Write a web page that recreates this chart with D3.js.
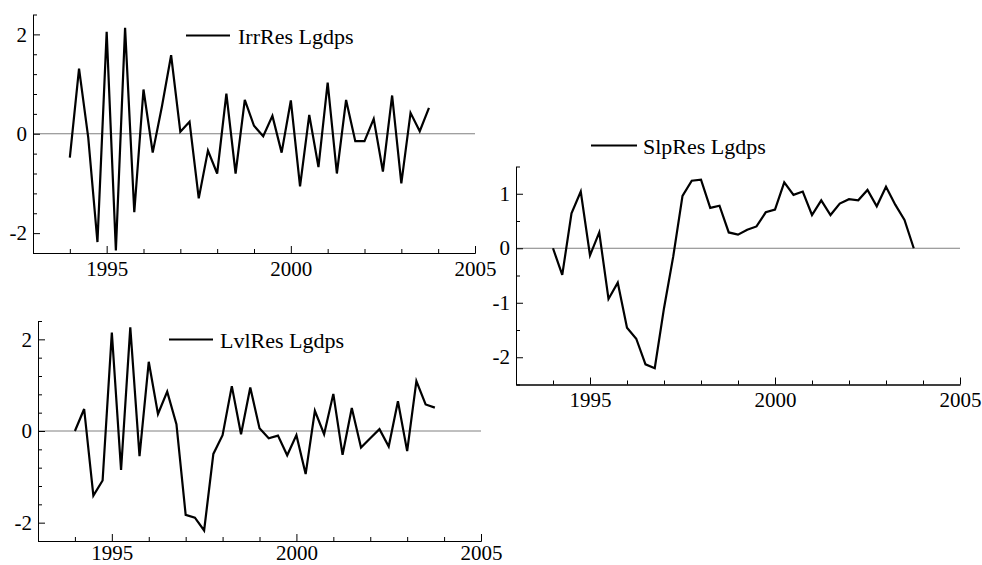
<!DOCTYPE html>
<html>
<head>
<meta charset="utf-8">
<script src="https://cdn.jsdelivr.net/npm/d3@7"></script>
<style>
  body { margin: 0; background: #fff; }
  svg { display: block; }
</style>
</head>
<body>
<div id="main"></div>
<script>
// quarterly dates 1994Q1 .. 2003Q4
var quarters = [
  1994, 1994.25, 1994.5, 1994.75, 1995, 1995.25, 1995.5, 1995.75,
  1996, 1996.25, 1996.5, 1996.75, 1997, 1997.25, 1997.5, 1997.75,
  1998, 1998.25, 1998.5, 1998.75, 1999, 1999.25, 1999.5, 1999.75,
  2000, 2000.25, 2000.5, 2000.75, 2001, 2001.25, 2001.5, 2001.75,
  2002, 2002.25, 2002.5, 2002.75, 2003, 2003.25, 2003.5, 2003.75
];

var irrRes = [
  -0.48, 1.31, -0.08, -2.18, 2.05, -2.35, 2.13, -1.58,
  0.89, -0.38, 0.55, 1.58, 0.04, 0.24, -1.30, -0.34,
  -0.80, 0.81, -0.80, 0.68, 0.16, -0.05, 0.36, -0.38,
  0.67, -1.06, 0.38, -0.67, 1.03, -0.80, 0.68, -0.15,
  -0.15, 0.30, -0.76, 0.77, -1.00, 0.42, 0.05, 0.52
];

var lvlRes = [
  0.00, 0.48, -1.41, -1.08, 2.15, -0.85, 2.26, -0.55,
  1.51, 0.37, 0.86, 0.15, -1.83, -1.89, -2.17, -0.50,
  -0.09, 0.98, -0.07, 0.95, 0.06, -0.16, -0.10, -0.53,
  -0.09, -0.94, 0.44, -0.07, 0.81, -0.52, 0.50, -0.36,
  -0.16, 0.04, -0.34, 0.65, -0.44, 1.09, 0.58, 0.51
];

var slpRes = [
  0.00, -0.49, 0.64, 1.04, -0.13, 0.29, -0.93, -0.63,
  -1.46, -1.66, -2.13, -2.20, -1.10, -0.15, 0.96, 1.24,
  1.26, 0.74, 0.78, 0.29, 0.25, 0.34, 0.40, 0.66,
  0.71, 1.21, 0.98, 1.04, 0.61, 0.88, 0.61, 0.82,
  0.90, 0.88, 1.07, 0.77, 1.13, 0.80, 0.52, 0.00
];

var xTicks = [1995, 2000, 2005];
var xMinorTicks = [1994, 1996, 1997, 1998, 1999, 2001, 2002, 2003, 2004];
var yTicksLeft = [-2, 0, 2];
var yTicksRight = [-2, -1, 0, 1];

var W = 982, H = 565;
var FONT = "'Liberation Serif', 'Times New Roman', Times, serif";

var svg = d3.select("#main")
  .append("svg")
    .attr("width", W)
    .attr("height", H);

var panels = [
  { name: "IrrRes Lgdps", values: irrRes, x0: 33, x1: 475, y0: 14.5, y1: 253, pad: 8,
    yDomain: [-2.4, 2.4], yTicks: yTicksLeft, yStep: 0.4,
    legend: { lx1: 186, lx2: 230, ly: 35.5, tx: 238, ty: 44 } },
  { name: "LvlRes Lgdps", values: lvlRes, x0: 38, x1: 481, y0: 321, y1: 541, pad: 4,
    yDomain: [-2.4, 2.4], yTicks: yTicksLeft, yStep: 0.4,
    legend: { lx1: 169, lx2: 213, ly: 339.5, tx: 220, ty: 347.5 } },
  { name: "SlpRes Lgdps", values: slpRes, x0: 516, x1: 960, y0: 166.5, y1: 384.5, pad: 8,
    yDomain: [-2.5, 1.5], yTicks: yTicksRight, yStep: 0.5,
    legend: { lx1: 591, lx2: 637, ly: 145.5, tx: 643, ty: 153.5 } }
];

panels.forEach(drawPanel);

function drawPanel(p) {
  var x = d3.scaleLinear().domain([1993, 2005]).range([p.x0, p.x1]);
  var y = d3.scaleLinear().domain(p.yDomain).range([p.y1, p.y0]);

  var g = svg.append("g");

  // zero line
  g.append("line")
    .attr("x1", p.x0).attr("x2", p.x1)
    .attr("y1", y(0)).attr("y2", y(0))
    .attr("stroke", "#808080")
    .attr("stroke-width", 1);

  // minor y ticks
  var minor = d3.range(p.yDomain[0], p.yDomain[1] + 1e-6, p.yStep)
    .filter(function(v) { return p.yTicks.indexOf(Math.round(v * 100) / 100) < 0; });

  g.append("g")
    .attr("transform", "translate(" + p.x0 + ",0)")
    .call(d3.axisLeft(y).tickValues(minor).tickSizeInner(-4).tickSizeOuter(0).tickFormat(""))
    .call(styleAxis);

  g.append("g")
    .attr("transform", "translate(" + p.x0 + ",0)")
    .call(d3.axisLeft(y).tickValues(p.yTicks).tickSizeInner(-7).tickSizeOuter(0)
      .tickPadding(6).tickFormat(function(d) { return String(d); }))
    .call(styleAxis);

  // x axis
  g.append("g")
    .attr("transform", "translate(0," + p.y1 + ")")
    .call(d3.axisBottom(x).tickValues(xMinorTicks).tickSizeInner(-4).tickSizeOuter(0).tickFormat(""))
    .call(styleAxis);

  g.append("g")
    .attr("transform", "translate(0," + p.y1 + ")")
    .call(d3.axisBottom(x).tickValues(xTicks).tickSizeInner(-7).tickSizeOuter(0)
      .tickPadding(p.pad).tickFormat(function(d) { return String(d); }))
    .call(styleAxis);

  // series
  var line = d3.line()
    .x(function(d, i) { return x(quarters[i]); })
    .y(function(d) { return y(d); });

  g.append("path")
    .datum(p.values)
    .attr("d", line)
    .attr("fill", "none")
    .attr("stroke", "#000")
    .attr("stroke-width", 2.2)
    .attr("stroke-linejoin", "miter");

  // legend
  g.append("line")
    .attr("x1", p.legend.lx1).attr("x2", p.legend.lx2)
    .attr("y1", p.legend.ly).attr("y2", p.legend.ly)
    .attr("stroke", "#000")
    .attr("stroke-width", 2.2);

  g.append("text")
    .attr("x", p.legend.tx)
    .attr("y", p.legend.ty)
    .style("font-family", FONT)
    .style("font-size", "22px")
    .style("fill", "#000")
    .text(p.name);
}

function styleAxis(sel) {
  sel.attr("font-family", null);
  sel.select(".domain").attr("stroke", "#000").attr("stroke-width", 1);
  sel.selectAll(".tick line").attr("stroke", "#000").attr("stroke-width", 1);
  sel.selectAll(".tick text")
    .style("font-family", FONT)
    .style("font-size", "21px")
    .style("fill", "#000");
}
</script>
</body>
</html>
